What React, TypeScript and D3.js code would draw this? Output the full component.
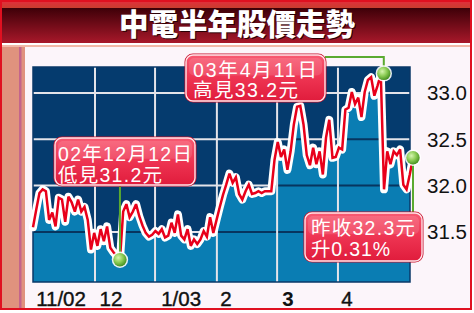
import React from 'react';
import * as d3 from 'd3';

// Daily closing prices (HK$), Nov 2002 – Apr 2003
const prices: number[] = [
  31.55, 31.74, 31.92, 31.96, 31.94, 31.63, 31.71, 31.56, 31.87, 31.85,
  31.61, 31.88, 31.82, 31.72, 31.85, 31.72, 31.77, 31.63, 31.31, 31.49,
  31.35, 31.53, 31.40, 31.56, 31.33, 31.28, 31.24, 31.20, 31.72, 31.80,
  31.66, 31.72, 31.80, 31.67, 31.57, 31.49, 31.45, 31.47, 31.51, 31.48,
  31.53, 31.44, 31.46, 31.60, 31.49, 31.69, 31.46, 31.42, 31.53, 31.35,
  31.42, 31.37, 31.42, 31.51, 31.45, 31.66, 31.49, 31.63, 31.77, 31.90,
  32.01, 32.13, 32.03, 32.09, 31.91, 31.85, 31.94, 32.01, 31.91, 31.92,
  31.94, 31.92, 31.94, 31.94, 31.94, 32.28, 32.47, 32.31, 32.39, 32.17,
  32.37, 32.66, 32.85, 32.86, 32.66, 32.33, 32.22, 32.41, 32.23, 32.37,
  32.12, 32.52, 32.71, 32.30, 32.31, 32.41, 32.39, 32.82, 32.84, 33.01,
  32.88, 32.95, 32.74, 33.01, 33.14, 33.17, 32.97, 33.08, 33.20, 31.96,
  32.37, 32.23, 32.37, 32.33, 32.39, 32.01, 31.96, 32.12, 32.30,
];

const lowIndex = 27;
const highIndex = 108;
const lastIndex = prices.length - 1;

const xLabels = ['11/02', '12', '1/03', '2', '3', '4'];
const xLabelPos = [8.7, 24.2, 46.0, 59.9, 79.2, 97.5];
const gridX = [19.25, 37.9, 57.1, 75.8, 94.7];
const yTicks = [33.0, 32.5, 32.0, 31.5];

const title = '中電半年股價走勢';
const lowText = ['02年12月12日', '低見31.2元'];
const highText = ['03年4月11日', '高見33.2元'];
const lastText = ['昨收32.3元', '升0.31%'];

const FONT = "'Liberation Sans', Arial, 'Noto Sans CJK TC', sans-serif";

function Callout({ bx, by, bw, bh, lines, tx, baselines, lengths }: any) {
  return (
    <g>
      <rect x={bx} y={by} width={bw} height={bh} rx={7} fill="url(#callGrad)" stroke="#c8102c" strokeWidth={3} />
      <rect x={bx} y={by} width={bw} height={bh} rx={7} fill="url(#callGrad)" stroke="#ffe6ea" strokeWidth={1.4} />
      <rect x={bx + 3} y={by + 3} width={bw - 6} height={bh * 0.38} rx={5} fill="#ffffff" opacity={0.12} />
      {lines.map((t: string, i: number) => (
        <text key={i} x={tx} y={baselines[i]} fill="#fff" fontSize={19.5} fontFamily={FONT}
          textLength={lengths[i]} lengthAdjust="spacing">{t}</text>
      ))}
    </g>
  );
}

function Dot({ cx, cy }: { cx: number; cy: number }) {
  return (
    <g>
      <circle cx={cx} cy={cy} r={8.2} fill="#ffffff" opacity={0.9} />
      <circle cx={cx} cy={cy} r={6.7} fill="url(#dotGrad)" />
    </g>
  );
}

export default function App() {
  const W = 474, H = 313;
  const plot = { l: 33, r: 410, t: 67, b: 282 };
  const x = d3.scaleLinear().domain([0, lastIndex]).range([33, 413]);
  const y = d3.scaleLinear().domain([30.96, 33.28]).range([plot.b, plot.t]);

  const lineGen = d3.line<number>().x((_, i) => x(i)).y((d) => y(d));
  const areaGen = d3.area<number>().x((_, i) => x(i)).y0(plot.b).y1((d) => y(d));
  const linePath = lineGen(prices) || '';
  const areaPath = areaGen(prices) || '';

  const lowX = x(lowIndex), lowY = y(prices[lowIndex]);
  const highX = x(highIndex), highY = y(prices[highIndex]);
  const lastX = x(lastIndex), lastY = y(prices[lastIndex]);

  return (
    <svg width={W} height={H} style={{ position: 'absolute', left: 0, top: 0 }}>
      <defs>
        <linearGradient id="bandGrad" x1="0" y1="0" x2="0" y2="1">
          <stop offset="0" stopColor="#3e0008" />
          <stop offset="1" stopColor="#a8182a" />
        </linearGradient>
        <linearGradient id="topGrad" x1="0" y1="0" x2="0" y2="1">
          <stop offset="0" stopColor="#e0303a" />
          <stop offset="1" stopColor="#c4402c" />
        </linearGradient>
        <linearGradient id="callGrad" x1="0" y1="0" x2="0" y2="1">
          <stop offset="0" stopColor="#f85a72" />
          <stop offset="0.5" stopColor="#ee3452" />
          <stop offset="1" stopColor="#e01c3c" />
        </linearGradient>
        <radialGradient id="dotGrad" cx="0.38" cy="0.35" r="0.7">
          <stop offset="0" stopColor="#d6f5b0" />
          <stop offset="0.5" stopColor="#8ccc55" />
          <stop offset="1" stopColor="#3f8a1c" />
        </radialGradient>
        <clipPath id="plotClip">
          <rect x={plot.l} y={plot.t} width={plot.r - plot.l} height={plot.b - plot.t} />
        </clipPath>
        <clipPath id="areaClip">
          <path d={areaPath} />
        </clipPath>
      </defs>

      <rect x={0} y={0} width={W} height={H} fill="#ffffff" />
      {/* frame */}
      <rect x={1} y={1} width={470} height={308} fill="#fcf5fa" stroke="#e01020" strokeWidth={2} />
      <rect x={2} y={2} width={468} height={7} fill="url(#topGrad)" />
      <rect x={2} y={8} width={468} height={35} fill="url(#bandGrad)" />
      <rect x={2} y={43} width={468} height={2} fill="#ffffff" />
      <rect x={2} y={45} width={468} height={2} fill="#f2b8a8" />
      <rect x={2} y={47} width={23} height={261} fill="#e0927e" />
      <rect x={19} y={47} width={2.5} height={261} fill="#c4648c" />

      <text x={238} y={36} textAnchor="middle" fontSize={29.5} fontWeight="900" fill="#2a0004"
        fontFamily="'Noto Sans CJK TC', sans-serif">{title}</text>
      <text x={237} y={35} textAnchor="middle" fontSize={29.5} fontWeight="900" fill="#ffffff"
        fontFamily="'Noto Sans CJK TC', sans-serif">{title}</text>

      {/* plot background */}
      <rect x={plot.l} y={plot.t} width={plot.r - plot.l} height={plot.b - plot.t} fill="#053b6e" />
      {yTicks.map((v) => (
        <line key={'h' + v} x1={plot.l} x2={plot.r} y1={y(v)} y2={y(v)} stroke="#e4e4ea" strokeWidth={2} />
      ))}
      <path d={areaPath} fill="#0a7db3" clipPath="url(#plotClip)" />
      <g clipPath="url(#areaClip)">
        {yTicks.map((v) => (
          <line key={'hd' + v} x1={plot.l} x2={plot.r} y1={y(v)} y2={y(v)} stroke="#07355f" strokeWidth={2} />
        ))}
      </g>
      {gridX.map((g) => (
        <line key={'v' + g} x1={x(g)} x2={x(g)} y1={plot.t} y2={plot.b} stroke="#e4e4ea" strokeWidth={2} />
      ))}
      <rect x={plot.l} y={plot.t} width={plot.r - plot.l} height={plot.b - plot.t} fill="none" stroke="#0a3868" strokeWidth={1.5} />

      {/* price line */}
      <path d={linePath} fill="none" stroke="#ffffff" strokeWidth={8} strokeLinejoin="round" strokeLinecap="round" />
      <path d={linePath} fill="none" stroke="#e8001a" strokeWidth={2.5} strokeLinejoin="miter" strokeMiterlimit={3} />

      {/* connectors */}
      <line x1={lowX} x2={lowX} y1={lowY} y2={184} stroke="#5aaa30" strokeWidth={2} />
      <polyline points={`${highX + 3},${highY} ${highX + 3},57 325,57`} fill="none" stroke="#5aaa30" strokeWidth={2} />
      <line x1={lastX} x2={lastX} y1={lastY} y2={214} stroke="#5aaa30" strokeWidth={2} />

      <Callout bx={55} by={138} bw={140} bh={47} lines={lowText} tx={58} baselines={[161, 182]} lengths={[134, 104]} />
      <Callout bx={186} by={55} bw={139} bh={46} lines={highText} tx={193} baselines={[77, 97]} lengths={[124, 105]} />
      <Callout bx={305} by={213} bw={117} bh={48} lines={lastText} tx={311} baselines={[235, 256]} lengths={[104, 79]} />

      <Dot cx={lowX} cy={lowY} />
      <Dot cx={highX + 3} cy={highY - 1} />
      <Dot cx={lastX} cy={lastY} />

      {/* y tick labels */}
      {yTicks.map((v) => (
        <text key={'yt' + v} x={427} y={y(v)} dy="0.36em" fontSize={20.5} fill="#111" fontFamily={FONT}>
          {v.toFixed(1)}
        </text>
      ))}
      {/* x labels */}
      {xLabels.map((l, i) => (
        <text key={'xl' + l} x={x(xLabelPos[i])} y={306} textAnchor="middle" fontSize={20.5}
          fontWeight={l === '3' ? 'bold' : 'normal'} fill="#111" fontFamily={FONT}
          stroke="#111" strokeWidth={l === '3' ? 0 : 0.4}>{l}</text>
      ))}
    </svg>
  );
}
